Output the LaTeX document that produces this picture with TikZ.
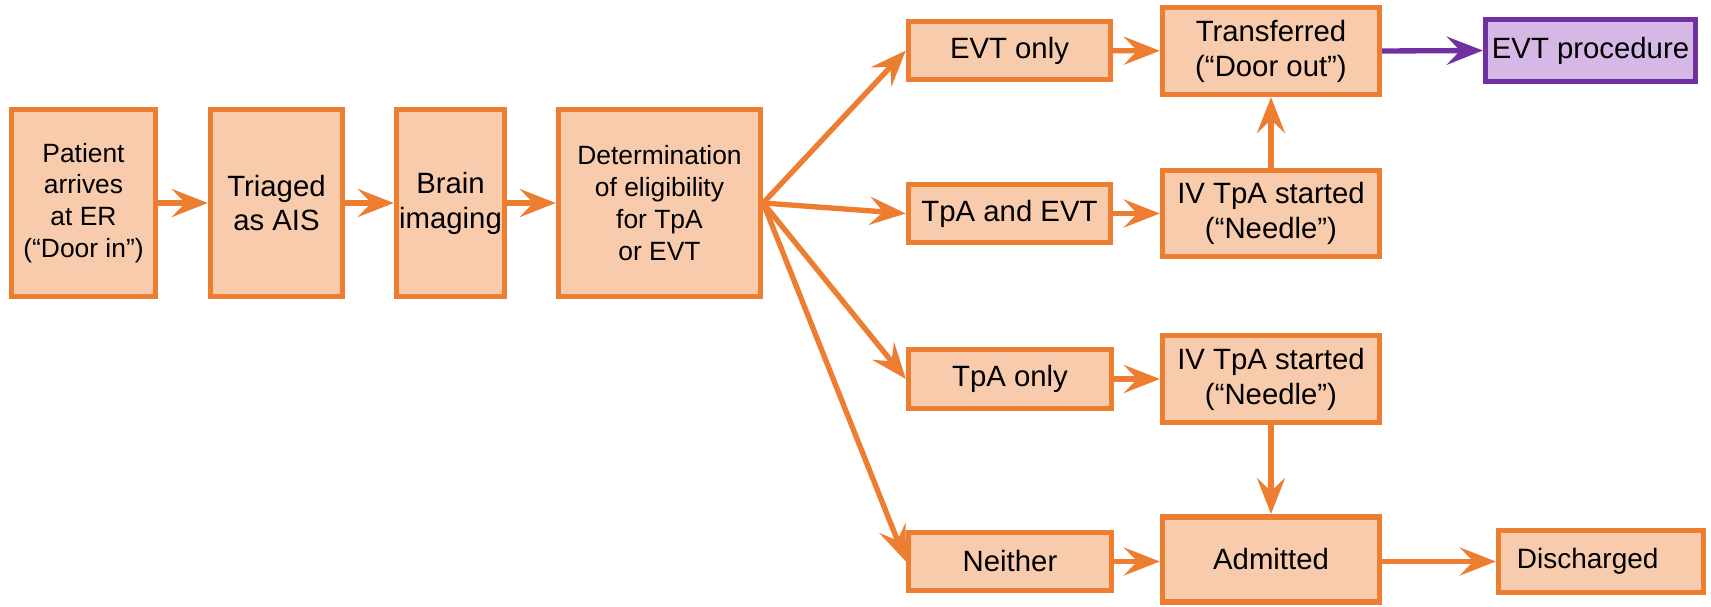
\documentclass[tikz,border=0pt]{standalone}
\usepackage{fontspec}
\setmainfont{Liberation Sans}
\usetikzlibrary{arrows.meta}
\definecolor{obord}{HTML}{ED7D31}
\definecolor{ofill}{HTML}{F8CBAD}
\definecolor{pbord}{HTML}{7030A0}
\definecolor{pfill}{HTML}{D5B8E6}
\tikzset{
  box/.style={draw=obord, fill=ofill, line width=4.2pt, inner sep=0pt, align=center,
    font=\fontsize{22}{26.2}\selectfont},
  smallbox/.style={box, font=\fontsize{19.8}{23.8}\selectfont},
  pbox/.style={box, draw=pbord, fill=pfill},
  flow/.style={draw=obord, line width=4pt, -{Stealth[length=27pt,width=21pt,inset=10pt]}},
  pflow/.style={flow, draw=pbord, fill=pbord},
}
\begin{document}
\begin{tikzpicture}[x=0.75pt,y=-0.75pt]
\useasboundingbox (0,0) rectangle (1711,607);
% left column
\node[smallbox, minimum width=107.8pt, minimum height=140pt] (pat) at (83.5,203) {Patient\\arrives\\at ER\\(“Door in”)};
\node[box, minimum width=98.8pt, minimum height=140pt] (tri) at (276.5,203) {Triaged\\as AIS};
\node[box, minimum width=80.8pt, minimum height=140pt] (brain) at (450.5,203) {Brain\\imaging};
\node[smallbox, minimum width=151.3pt, minimum height=140pt] (det) at (659.5,203) {Determination\\of eligibility\\for TpA\\or EVT};
% options
\node[box, minimum width=151.3pt, minimum height=43.3pt] (evto) at (1009.5,50.5) {EVT only};
\node[box, minimum width=151.3pt, minimum height=43.3pt] (tpaevt) at (1009.5,213.5) {TpA and EVT};
\node[box, minimum width=152pt, minimum height=44pt] (tpao) at (1010,379) {TpA only};
\node[box, minimum width=152pt, minimum height=43.3pt] (neither) at (1010,561.5) {Neither};
% next steps
\node[box, minimum width=162.5pt, minimum height=65pt] (trans) at (1271,51) {Transferred\\(“Door out”)};
\node[box, minimum width=162.5pt, minimum height=64.3pt] (iv1) at (1271,213.5) {IV TpA started\\(“Needle”)};
\node[box, minimum width=162.5pt, minimum height=65pt] (iv2) at (1271,379) {IV TpA started\\(“Needle”)};
\node[box, minimum width=162.5pt, minimum height=64pt] (adm) at (1271,559.5) {Admitted};
\node[pbox, minimum width=157.3pt, minimum height=46.3pt] (evtp) at (1590.5,50.5) {EVT procedure};
\node[box, font=\fontsize{21}{25}\selectfont, minimum width=153.5pt, minimum height=46.3pt] (disc) at (1601,561.5) {\hspace*{-20pt}Discharged};
% connectors
\draw[flow] (pat) -- (tri);
\draw[flow] (tri) -- (brain);
\draw[flow] (brain) -- (det);
\draw[flow] (det.east) -- (evto.west);
\draw[flow] (det.east) -- (tpaevt.west);
\draw[flow] (det.east) -- (tpao.west);
\draw[flow] (det.east) -- (neither.west);
\draw[flow] (evto) -- (trans);
\draw[flow] (tpaevt) -- (iv1);
\draw[flow] (iv1) -- (trans);
\draw[flow] (tpao) -- (iv2);
\draw[flow] (iv2) -- (adm);
\draw[flow] (neither.east) -- (neither.east -| adm.west);
\draw[flow] (adm.east |- disc.west) -- (disc.west);
\draw[pflow] (trans.east) -- (evtp.west);
\end{tikzpicture}
\end{document}
